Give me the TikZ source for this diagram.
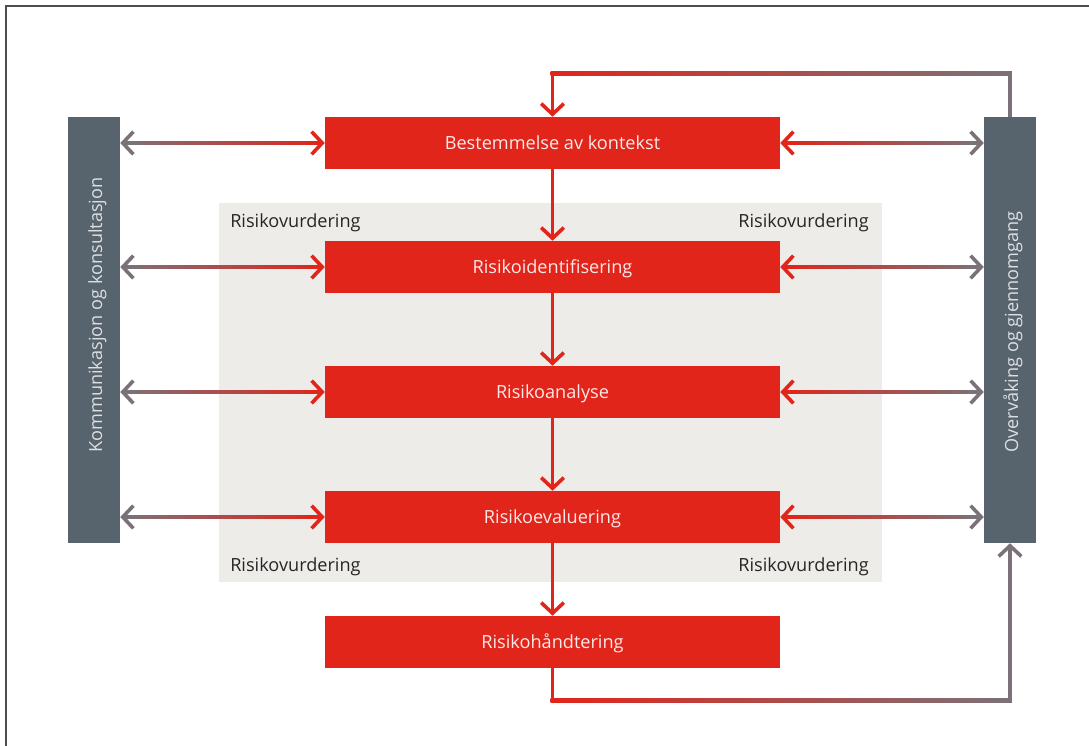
\documentclass[tikz,border=0pt]{standalone}
\usepackage{fontspec}
\setmainfont{Open Sans}
\usetikzlibrary{arrows.meta,calc}
\definecolor{rred}{HTML}{E1251B}
\definecolor{bargray}{HTML}{57636D}
\definecolor{arrgray}{HTML}{7A7278}
\definecolor{bgbox}{HTML}{EEECE9}
\definecolor{framecol}{HTML}{4D4D4D}
\definecolor{labeltext}{HTML}{262626}
\definecolor{bartext}{HTML}{DCE0E3}
\begin{document}
\begin{tikzpicture}[x=0.75pt,y=-0.75pt,
  txt/.style={font=\fontsize{13.6}{16}\selectfont},
  redbox/.style={txt, fill=rred, text=white!90!rred, minimum width=341.25pt, minimum height=39pt, inner sep=0pt, text height=1em, text depth=0.1em},
  sidebar/.style={fill=bargray, minimum width=39pt, minimum height=319.5pt, inner sep=0pt},
  bartxt/.style={txt, text=bartext, rotate=90, anchor=base west, inner sep=0pt},
  rvlabel/.style={txt, text=labeltext, inner sep=0pt},
  bgarea/.style={fill=bgbox, minimum width=497.25pt, minimum height=284.25pt, inner sep=0pt},
  conn/.style={line width=2.7pt},
  redtip/.style={conn, draw=rred, -{Straight Barb[length=8pt,width=17pt]}},
  graytip/.style={conn, draw=arrgray, -{Straight Barb[length=8pt,width=17pt]}},
]
\useasboundingbox (0,0) rectangle (1089,746);
\draw[framecol, line width=1.4pt] (6,746) -- (6,6) -- (1089,6);
\node[bgarea] (rv) at (550.5,392.5) {};
\node[sidebar] (lbar) at (94,330) {};
\node[sidebar] (rbar) at (1010,330) {};
\node[bartxt] (ltxt) at (102,453) {Kommunikasjon og konsultasjon};
\node[bartxt] (rtxt) at (1018,453) {Overvåking og gjennomgang};
\node[redbox] (b1) at (552.5,143) {Bestemmelse av kontekst};
\node[redbox] (b2) at (552.5,267) {Risikoidentifisering};
\node[redbox] (b3) at (552.5,392) {Risikoanalyse};
\node[redbox] (b4) at (552.5,517) {Risikoevaluering};
\node[redbox] (b5) at (552.5,642) {Risikohåndtering};
\node[rvlabel, anchor=base west] (rv1) at (230,227) {Risikovurdering};
\node[rvlabel, anchor=base east] (rv2) at (869,227) {Risikovurdering};
\node[rvlabel, anchor=base west] (rv3) at (230,571) {Risikovurdering};
\node[rvlabel, anchor=base east] (rv4) at (869,571) {Risikovurdering};
% vertical flow
\draw[redtip] (b1.south) -- (b2.north);
\draw[redtip] (b2.south) -- (b3.north);
\draw[redtip] (b3.south) -- (b4.north);
\draw[redtip] (b4.south) -- (b5.north);
% side connectors
\foreach \b in {b1,b2,b3,b4} {
  \shade[left color=arrgray, right color=rred] ($(lbar.east |- \b)+(3,-1.8)$) rectangle ($(\b.west)+(-3,1.8)$);
  \draw[graytip] ($(lbar.east |- \b)+(18,0)$) -- (lbar.east |- \b);
  \draw[redtip] ($(\b.west)+(-18,0)$) -- (\b.west);
  \shade[left color=rred, right color=arrgray] ($(\b.east)+(3,-1.8)$) rectangle ($(rbar.west |- \b)+(-3,1.8)$);
  \draw[redtip] ($(\b.east)+(18,0)$) -- (\b.east);
  \draw[graytip] ($(rbar.west |- \b)+(-18,0)$) -- (rbar.west |- \b);
}
% top loop
\coordinate (tl) at ($(b1.north)+(0,-43)$);
\coordinate (tr) at (rbar.north |- tl);
\draw[conn, draw=arrgray] (rbar.north) -- (tr);
\shade[left color=rred, right color=arrgray] ($(tl)+(-1.8,-1.8)$) rectangle ($(tr)+(1.8,1.8)$);
\draw[redtip] (tl) -- (b1.north);
% bottom loop
\coordinate (bl) at ($(b5.south)+(0,32)$);
\coordinate (br) at (rbar.south |- bl);
\draw[conn, draw=rred] (b5.south) -- (bl);
\shade[left color=rred, right color=arrgray] ($(bl)+(-1.8,-1.8)$) rectangle ($(br)+(1.8,1.8)$);
\draw[graytip] (br) -- (rbar.south);
\end{tikzpicture}
\end{document}
